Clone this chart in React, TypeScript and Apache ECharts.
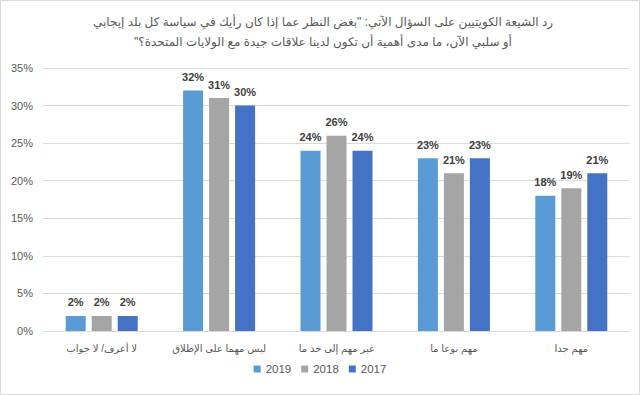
import React, { useEffect, useRef } from "react";
import * as echarts from "echarts";

const titleLines = [
  '\u200Fرد الشيعة الكويتيين على السؤال الآتي: "بغض النظر عما إذا كان رأيك في سياسة كل بلد إيجابي\u200F',
  '\u200Fأو سلبي الآن، ما مدى أهمية أن تكون لدينا علاقات جيدة مع الولايات المتحدة؟"\u200F',
];
const categories = [
  "لا أعرف/ لا جواب",
  "ليس مهما على الإطلاق",
  "غير مهم إلى حد ما",
  "مهم نوعا ما",
  "مهم جدا",
];
const seriesNames = ["2019", "2018", "2017"];
const values2019 = [2, 32, 24, 23, 18];
const values2018 = [2, 31, 26, 21, 19];
const values2017 = [2, 30, 24, 23, 21];
const colors = ["#5B9BD5", "#A5A5A5", "#4472C4"];

export default function App() {
  const ref = useRef<HTMLDivElement>(null);
  useEffect(() => {
    const chart = echarts.init(ref.current!, null, { renderer: "svg" });
    const font = "Arial, 'Liberation Sans', 'DejaVu Sans', sans-serif";
    const data = [values2019, values2018, values2017];
    chart.setOption({
      animation: false,
      textStyle: { fontFamily: font },
      title: {
        text: titleLines.join("\n"),
        left: 318,
        top: 7,
        textAlign: "center",
        textStyle: {
          fontSize: 12,
          fontWeight: "normal",
          color: "#595959",
          lineHeight: 20,
          fontFamily: font,
        },
      },
      legend: {
        data: seriesNames,
        bottom: 15,
        left: "center",
        itemWidth: 7,
        itemHeight: 7,
        itemGap: 10,
        icon: "rect",
        textStyle: { fontSize: 11.5, color: "#595959", fontFamily: font },
      },
      grid: { left: 43, right: 10, top: 68, bottom: 64, containLabel: false },
      xAxis: {
        type: "category",
        data: categories,
        axisTick: { show: false },
        axisLine: { lineStyle: { color: "#D9D9D9" } },
        axisLabel: { interval: 0, fontSize: 10, color: "#595959", margin: 12, fontFamily: font },
      },
      yAxis: {
        type: "value",
        min: 0,
        max: 35,
        interval: 5,
        axisLabel: {
          formatter: "{value}%",
          fontSize: 11,
          color: "#595959",
          margin: 10,
          fontFamily: font,
        },
        splitLine: { lineStyle: { color: "#D9D9D9" } },
        axisLine: { show: false },
        axisTick: { show: false },
      },
      series: seriesNames.map((name, i) => ({
        name,
        type: "bar",
        data: data[i],
        barWidth: 20,
        barGap: "30%",
        itemStyle: { color: colors[i] },
        label: {
          show: true,
          position: "top",
          formatter: "{c}%",
          fontSize: 11,
          fontWeight: "bold",
          color: "#404040",
          distance: 8,
          fontFamily: font,
        },
      })),
      graphic: [
        {
          type: "rect",
          shape: { x: 0.5, y: 0.5, width: 639, height: 394 },
          style: { fill: "none", stroke: "#D9D9D9", lineWidth: 1 },
          silent: true,
        },
      ],
    });
    return () => chart.dispose();
  }, []);
  return (
    <div
      ref={ref}
      style={{ position: "fixed", left: 0, top: 0, width: 640, height: 395, background: "#fff" }}
    />
  );
}
